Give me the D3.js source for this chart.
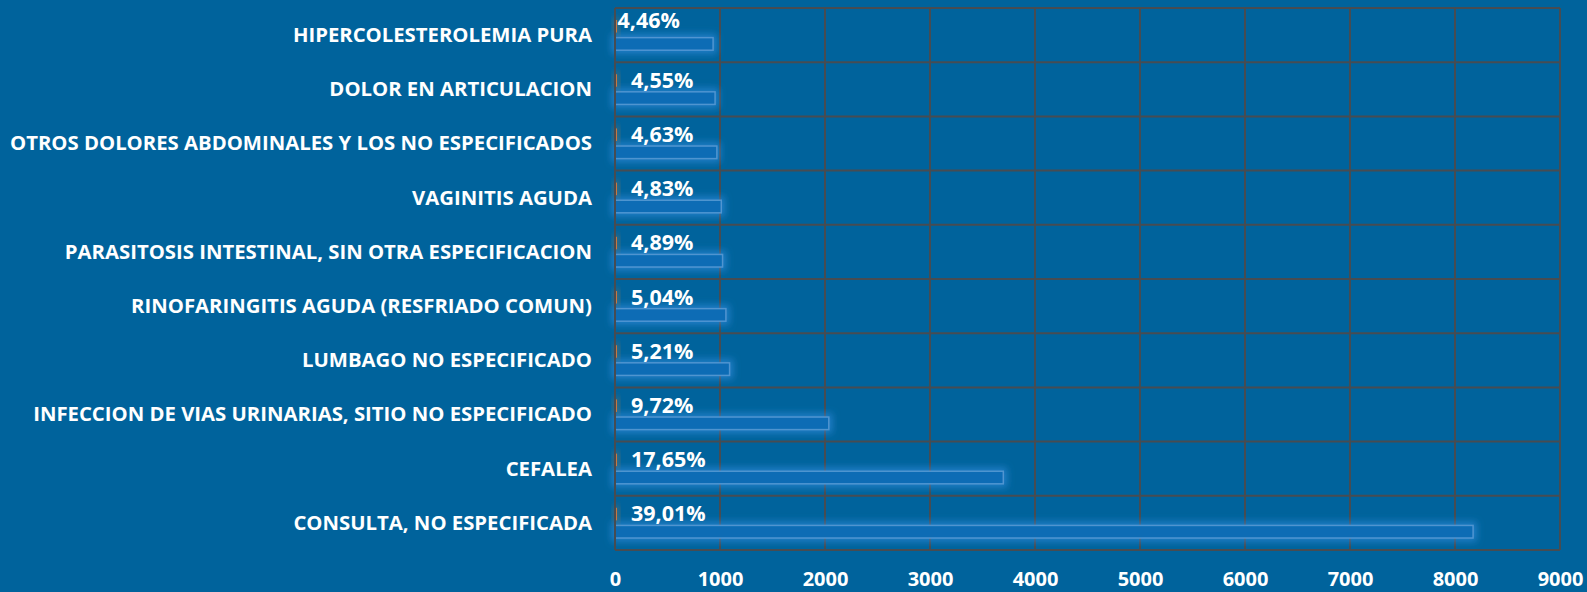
<!DOCTYPE html>
<html><head><meta charset="utf-8">
<script src="https://cdn.jsdelivr.net/npm/d3@7"></script>
<style>
html,body{margin:0;padding:0;background:#00639c;}
svg{display:block;}
</style></head>
<body>
<svg id="chart" width="1587" height="592"></svg>
<script>
const categories = [
  "HIPERCOLESTEROLEMIA PURA",
  "DOLOR EN ARTICULACION",
  "OTROS DOLORES ABDOMINALES Y LOS NO ESPECIFICADOS",
  "VAGINITIS AGUDA",
  "PARASITOSIS INTESTINAL, SIN OTRA ESPECIFICACION",
  "RINOFARINGITIS AGUDA (RESFRIADO COMUN)",
  "LUMBAGO NO ESPECIFICADO",
  "INFECCION DE VIAS URINARIAS, SITIO NO ESPECIFICADO",
  "CEFALEA",
  "CONSULTA, NO ESPECIFICADA"
];
const counts = [934, 953, 970, 1012, 1024, 1056, 1091, 2036, 3698, 8172];
const percents = [0.0446, 0.0455, 0.0463, 0.0483, 0.0489, 0.0504, 0.0521, 0.0972, 0.1765, 0.3901];
const percentLabels = ["4,46%", "4,55%", "4,63%", "4,83%", "4,89%", "5,04%", "5,21%", "9,72%", "17,65%", "39,01%"];
const xTicks = [0, 1000, 2000, 3000, 4000, 5000, 6000, 7000, 8000, 9000];

const svg = d3.select("#chart");
const plot = {left: 615, right: 1560, top: 8, bottom: 550};
const font = "'Open Sans', Lato, sans-serif";

const defs = svg.append("defs");
function glow(id, color, op, dil, blur) {
  const f = defs.append("filter").attr("id", id).attr("x","-300%").attr("y","-100%").attr("width","700%").attr("height","300%");
  f.append("feMorphology").attr("in","SourceAlpha").attr("operator","dilate").attr("radius",dil).attr("result","d");
  f.append("feGaussianBlur").attr("in","d").attr("stdDeviation",blur).attr("result","b");
  f.append("feFlood").attr("flood-color",color).attr("flood-opacity",op).attr("result","c");
  f.append("feComposite").attr("in","c").attr("in2","b").attr("operator","in").attr("result","g");
  const m = f.append("feMerge");
  m.append("feMergeNode").attr("in","g");
  m.append("feMergeNode").attr("in","SourceGraphic");
}
glow("glowB", "#3590e3", 0.6, 2.5, 3.5);
glow("glowO", "#a87a48", 0.55, 1.5, 3);

const x = d3.scaleLinear().domain([0, 9000]).range([plot.left, plot.right]);
const y = d3.scaleBand().domain(categories).range([plot.top, plot.bottom]).paddingInner(0).paddingOuter(0);
const inner = d3.scaleBand().domain(["pct","count"]).range([0, y.bandwidth()]).paddingInner(0.29).paddingOuter(0.68);

const gridColor = "#474c52";

svg.append("g").selectAll("line").data(xTicks).join("line")
  .attr("x1", d => x(d)).attr("x2", d => x(d))
  .attr("y1", plot.top).attr("y2", plot.bottom)
  .attr("stroke", gridColor).attr("stroke-width", 2);

const seps = categories.map(c => y(c)).concat([plot.bottom]);
svg.append("g").selectAll("line").data(seps).join("line")
  .attr("x1", plot.left).attr("x2", plot.right)
  .attr("y1", d => d).attr("y2", d => d)
  .attr("stroke", gridColor).attr("stroke-width", 2);

svg.append("g").selectAll("rect").data(categories).join("rect")
  .attr("x", x(0))
  .attr("y", c => y(c) + inner("count"))
  .attr("width", (c,i) => x(counts[i]) - x(0))
  .attr("height", inner.bandwidth())
  .attr("fill", "#0a6cb5")
  .attr("stroke", "#5b9bd5")
  .attr("stroke-opacity", 0.85)
  .attr("stroke-width", 1.5)
  .attr("filter", "url(#glowB)");

svg.append("g").selectAll("rect").data(categories).join("rect")
  .attr("x", x(0) + 0.5)
  .attr("y", c => y(c) + inner("pct"))
  .attr("width", (c,i) => Math.max(1.3, x(percents[i]) - x(0)))
  .attr("height", inner.bandwidth())
  .attr("fill", "#ed7d31")
  .attr("filter", "url(#glowO)");

svg.append("line").attr("x1", plot.left).attr("x2", plot.left)
  .attr("y1", plot.top).attr("y2", plot.bottom)
  .attr("stroke", gridColor).attr("stroke-width", 2);

svg.append("g").selectAll("text").data(categories).join("text")
  .attr("x", (c,i) => x(percents[i]) + (i === 0 ? 2.5 : 16))
  .attr("y", (c,i) => y(c) + inner("pct") + inner.bandwidth() + (i === 0 ? -5 : 1))
  .attr("fill", "#ffffff")
  .attr("font-family", font).attr("font-weight", "bold")
  .attr("font-size", "21.5px")
  .text((c,i) => percentLabels[i]);

const catText = svg.append("g").selectAll("text").data(categories).join("text")
  .attr("x", 592)
  .attr("y", c => y(c) + y.bandwidth()/2 + 6.8)
  .attr("text-anchor", "end")
  .attr("fill", "#ffffff")
  .attr("font-family", font).attr("font-weight", "bold")
  .attr("font-size", "18.8px")
  .text(c => c);

let maxW = 0;
catText.each(function(){ maxW = Math.max(maxW, this.getComputedTextLength()); });
const targetW = 582;
catText.each(function(){
  const w = this.getComputedTextLength();
  d3.select(this).attr("textLength", w * targetW / maxW).attr("lengthAdjust", "spacingAndGlyphs");
});

const xAxis = d3.axisBottom(x).tickValues(xTicks).tickSize(0).tickPadding(0).tickFormat(d3.format("d"));
const ax = svg.append("g").attr("transform", `translate(0, ${plot.bottom})`).call(xAxis);
ax.select(".domain").remove();
ax.selectAll("text")
  .attr("fill", "#ffffff")
  .attr("font-family", font).attr("font-weight", "bold")
  .attr("font-size", "20px")
  .attr("dy", null)
  .attr("y", 36);
</script>
</body></html>
